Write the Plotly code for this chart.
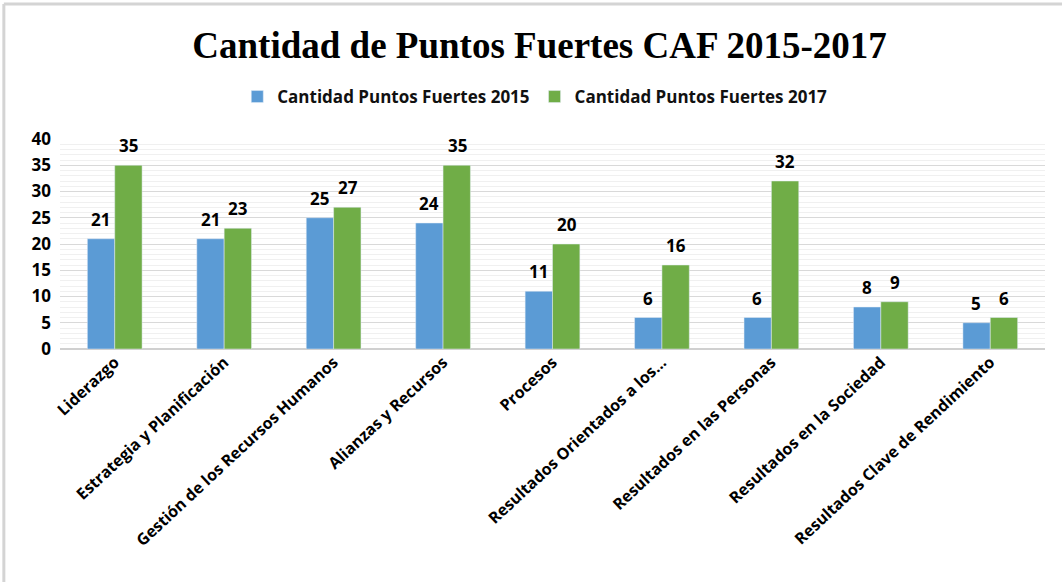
import plotly.graph_objects as go

categorias = ["Liderazgo", "Estrategia y Planificación", "Gestión de los Recursos Humanos",
              "Alianzas y Recursos", "Procesos", "Resultados Orientados a los...",
              "Resultados en las Personas", "Resultados en la Sociedad",
              "Resultados Clave de Rendimiento"]
puntos_2015 = [21, 21, 25, 24, 11, 6, 6, 8, 5]
puntos_2017 = [35, 23, 27, 35, 20, 16, 32, 9, 6]
nombre_2015 = "Cantidad Puntos Fuertes 2015"
nombre_2017 = "Cantidad Puntos Fuertes 2017"

azul = "#5b9bd5"
verde = "#70ad47"
fuente = "Open Sans"

fig = go.Figure()
fig.add_trace(go.Bar(x=categorias, y=puntos_2015, name=nombre_2015, marker_color=azul))
fig.add_trace(go.Bar(x=categorias, y=puntos_2017, name=nombre_2017, marker_color=verde))

# etiquetas de datos encima de cada barra
for serie, desplaz in ((puntos_2015, -14), (puntos_2017, 14)):
    for cat, val in zip(categorias, serie):
        fig.add_annotation(x=cat, y=val, text=str(val), showarrow=False,
                           xshift=desplaz, yshift=6, yanchor="bottom",
                           font=dict(family=fuente, size=17, color="black", weight="bold"))

fig.update_layout(
    width=1062, height=582,
    margin=dict(l=60, r=17, t=139, b=233, autoexpand=False),
    paper_bgcolor="white", plot_bgcolor="white",
    barmode="group", bargap=0.5, bargroupgap=0,
    title=dict(text="<b>Cantidad de Puntos Fuertes CAF 2015-2017</b>",
               font=dict(family="Liberation Serif", size=37, color="black"),
               x=0.508, xanchor="center", y=1 - 45 / 582, yanchor="middle"),
    legend=dict(orientation="h", x=0.482, xanchor="center", y=1.2, yanchor="middle",
                font=dict(family=fuente, size=17, color="#111", weight="bold"),
                itemwidth=30, traceorder="normal"),
    font=dict(family=fuente),
)

fig.update_yaxes(range=[0, 40], dtick=5, showgrid=True, gridcolor="#d9d9d9", gridwidth=1,
                 minor=dict(dtick=1, showgrid=True, gridcolor="#f0f0f0", gridwidth=1),
                 zeroline=True, zerolinecolor="#d0d0d0", ticks="", showline=False,
                 automargin=False,
                 tickfont=dict(family=fuente, size=17, color="black", weight="bold"),
                 ticklabelstandoff=8)
fig.update_xaxes(tickangle=-43, ticks="", showline=False, automargin=False,
                 tickfont=dict(family=fuente, size=16, color="black", weight="bold"))

# marco gris arriba y a la izquierda
fig.add_shape(type="line", xref="paper", yref="paper", x0=-0.057, x1=1.02, y0=1.643, y1=1.643,
              line=dict(color="#d4d4d4", width=3))
fig.add_shape(type="line", xref="paper", yref="paper", x0=-0.057, x1=-0.057, y0=1.643, y1=-1.12,
              line=dict(color="#d4d4d4", width=3))

fig.write_html("out.html", config={"displayModeBar": False},
               post_script="document.body.style.margin='0';")
